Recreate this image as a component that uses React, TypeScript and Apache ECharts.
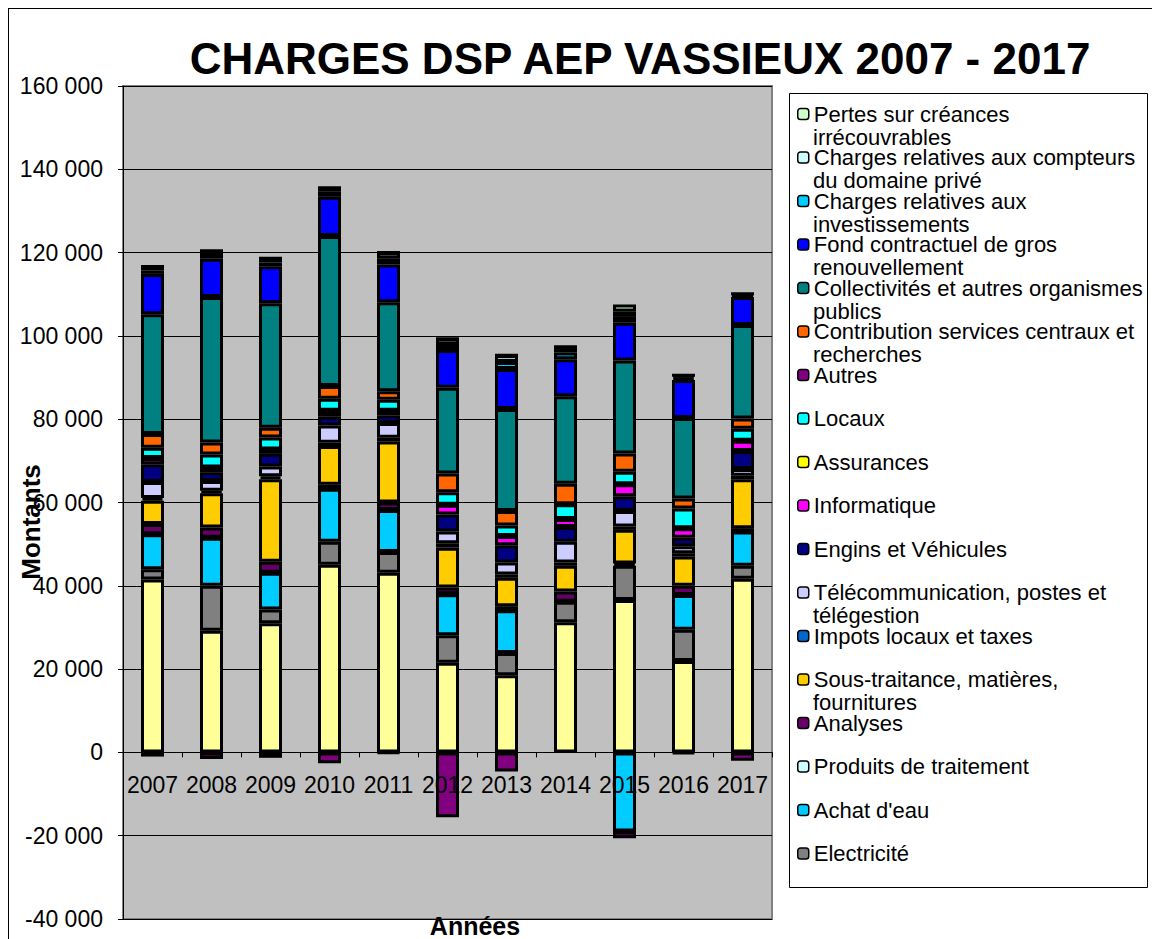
import React, { useEffect, useRef } from "react";
import * as echarts from "echarts";

const CATEGORIES = ["2007", "2008", "2009", "2010", "2011", "2012", "2013", "2014", "2015", "2016", "2017"];

const Y_MIN = -40000;
const Y_MAX = 160000;
const Y_INTERVAL = 20000;

// Series values, stacked bottom -> top
const personnel = [41500, 29180, 30990, 45050, 43150, 21540, 18500, 31240, 36580, 21950, 41680];
const electricite = [2470, 10850, 3290, 5500, 4940, 6570, 5340, 4930, 8220, 7480, 3120];
const achatEau = [8380, 11510, 8880, 12740, 10110, 9870, 10270, 0, -19000, 8380, 8220];
const produitsTraitement = [0, 0, 0, 0, 0, 0, 0, 0, 0, 0, 0];
const analyses = [2470, 2470, 2630, 990, 1800, 1640, 990, 2460, 570, 2220, 820];
const sousTraitance = [5590, 8220, 19810, 9290, 14640, 9540, 6820, 6170, 8060, 6990, 11760];
const impots = [700, 600, 700, 750, 900, 1050, 800, 800, 800, 800, 800];
const telecom = [3800, 2350, 2340, 4180, 3540, 2810, 2900, 4950, 3720, 1660, 1660];
const engins = [4270, 2060, 3040, 2060, 1890, 4110, 4110, 3540, 3540, 2060, 4280];
const informatique = [1480, 1150, 1070, 1480, 1070, 2300, 2220, 1970, 2870, 2300, 2460];
const assurances = [0, 0, 0, 0, 0, 0, 0, 0, 0, 0, 0];
const locaux = [2470, 3120, 2870, 2870, 2630, 3040, 2550, 3540, 3040, 4690, 2880];
const autres = [-1000, -1600, -1300, -2600, -200, -15600, -4600, 0, -1600, -300, -2000];
const contribution = [3290, 2880, 2310, 3040, 2050, 4520, 3450, 4930, 4360, 2460, 2470];
const collectivites = [28770, 34940, 29920, 36050, 21370, 20550, 24500, 20960, 22360, 19320, 22440];
const fondRenouvellement = [9700, 9200, 8870, 9400, 9050, 9050, 9610, 8880, 9040, 9120, 6740];
const chargesInvest = [800, 900, 900, 1200, 1390, 1230, 1650, 1640, 1400, 600, 400];
const chargesCompteurs = [1000, 1000, 1000, 1000, 1480, 1480, 1640, 1400, 1310, 550, 420];
const pertesCreances = [0, 0, 0, 0, 0, 0, 0, 0, 1650, 0, 0];

const SERIES_NAMES = [
  "Personnel",
  "Electricité",
  "Achat d'eau",
  "Produits de traitement",
  "Analyses",
  "Sous-traitance, matières, fournitures",
  "Impots locaux et taxes",
  "Télécommunication, postes et télégestion",
  "Engins et Véhicules",
  "Informatique",
  "Assurances",
  "Locaux",
  "Autres",
  "Contribution services centraux et recherches",
  "Collectivités et autres organismes publics",
  "Fond contractuel de gros renouvellement",
  "Charges relatives aux investissements",
  "Charges relatives aux compteurs du domaine privé",
  "Pertes sur créances irrécouvrables",
];

const SERIES_VALUES = [
  personnel, electricite, achatEau, produitsTraitement, analyses, sousTraitance, impots, telecom,
  engins, informatique, assurances, locaux, autres, contribution, collectivites, fondRenouvellement,
  chargesInvest, chargesCompteurs, pertesCreances,
];

const SERIES_COLORS = [
  "#FFFF99", "#808080", "#00CCFF", "#CCFFFF", "#660066", "#FFCC00", "#0066CC", "#CCCCFF",
  "#000080", "#FF00FF", "#FFFF00", "#00FFFF", "#800080", "#FF6600", "#008080", "#0000FF",
  "#00CCFF", "#CCFFFF", "#CCFFCC",
];

// Legend wrapping as in the reference (first line / second line)
const LEGEND_FIRST: Record<string, string> = {
  "Pertes sur créances irrécouvrables": "Pertes sur créances",
  "Charges relatives aux compteurs du domaine privé": "Charges relatives aux compteurs",
  "Charges relatives aux investissements": "Charges relatives aux",
  "Fond contractuel de gros renouvellement": "Fond contractuel de gros",
  "Collectivités et autres organismes publics": "Collectivités et autres organismes",
  "Contribution services centraux et recherches": "Contribution services centraux et",
  "Télécommunication, postes et télégestion": "Télécommunication, postes et",
  "Sous-traitance, matières, fournitures": "Sous-traitance, matières,",
};
const LEGEND_SECOND: Record<string, string> = {
  "Pertes sur créances irrécouvrables": "irrécouvrables",
  "Charges relatives aux compteurs du domaine privé": "du domaine privé",
  "Charges relatives aux investissements": "investissements",
  "Fond contractuel de gros renouvellement": "renouvellement",
  "Collectivités et autres organismes publics": "publics",
  "Contribution services centraux et recherches": "recherches",
  "Télécommunication, postes et télégestion": "télégestion",
  "Sous-traitance, matières, fournitures": "fournitures",
};

const TITLE = "CHARGES DSP AEP VASSIEUX 2007 - 2017";
const X_NAME = "Années";
const Y_NAME = "Montants";

const FONT = "'Liberation Sans', Arial, sans-serif";

const GRID_HEIGHT = 833;

function fmt(v: number): string {
  const s = Math.abs(v).toString().replace(/\B(?=(\d{3})+(?!\d))/g, " ");
  return (v < 0 ? "-" : "") + s;
}

export default function App() {
  const ref = useRef<HTMLDivElement>(null);

  useEffect(() => {
    document.body.style.overflow = "hidden";
    if (!ref.current) return;
    const chart = echarts.init(ref.current, undefined, { renderer: "svg" });

    const legendNames = SERIES_NAMES.slice(1).reverse();
    const legendCommon = {
      orient: "vertical",
      left: 780,
      data: legendNames,
      itemWidth: 11,
      itemHeight: 11,
      itemGap: 21.5,
      padding: [9, 4, 22, 8],
      selectedMode: false,
      backgroundColor: "transparent",
      borderWidth: 0,
      textStyle: { fontFamily: FONT, fontSize: 22, color: "#000" },
    };

    // distance of the value 0 above the bottom of the plot
    const zeroOffset = (GRID_HEIGHT * (0 - Y_MIN)) / (Y_MAX - Y_MIN);

    const option: any = {
      animation: false,
      backgroundColor: "#ffffff",
      textStyle: { fontFamily: FONT },
      grid: {
        left: 114,
        top: 77,
        width: 649,
        height: GRID_HEIGHT,
        show: true,
        backgroundColor: "#C0C0C0",
        borderColor: "#808080",
        borderWidth: 2,
      },
      legend: [
        {
          ...legendCommon,
          top: 85,
          z: 5,
          itemStyle: { borderColor: "#000", borderWidth: 1.5 },
          formatter: (name: string) => LEGEND_FIRST[name] || name,
        },
        {
          ...legendCommon,
          top: 108,
          z: 6,
          itemStyle: { color: "rgba(0,0,0,0)", borderWidth: 0, opacity: 0 },
          formatter: (name: string) => LEGEND_SECOND[name] || " ",
        },
      ],
      xAxis: {
        type: "category",
        data: CATEGORIES,
        position: "bottom",
        offset: -zeroOffset,
        z: 5,
        axisLine: { onZero: false, lineStyle: { color: "#000", width: 1 } },
        axisTick: { show: true, length: 5, lineStyle: { color: "#000" } },
        axisLabel: { fontFamily: FONT, fontSize: 23, color: "#000", margin: 21, interval: 0 },
        splitLine: { show: false },
      },
      yAxis: {
        type: "value",
        min: Y_MIN,
        max: Y_MAX,
        interval: Y_INTERVAL,
        axisLine: { show: true, lineStyle: { color: "#000", width: 1 } },
        axisTick: { show: true, length: 5, lineStyle: { color: "#000" } },
        axisLabel: { fontFamily: FONT, fontSize: 23, color: "#000", margin: 20, formatter: fmt },
        splitLine: { show: true, lineStyle: { color: "#000", width: 1 } },
      },
      series: SERIES_NAMES.map((name, i) => ({
        name,
        type: "bar",
        stack: "total",
        barWidth: 23,
        data: SERIES_VALUES[i],
        itemStyle: { color: SERIES_COLORS[i], borderColor: "#000", borderWidth: 3 },
        emphasis: { disabled: true },
      })),
      graphic: [
        {
          type: "rect",
          z: 1,
          shape: { x: 780.5, y: 84.5, width: 358, height: 794 },
          style: { fill: "#ffffff", stroke: "#000", lineWidth: 1 },
        },
        {
          type: "text",
          x: 631,
          y: 49,
          style: {
            text: TITLE,
            fontFamily: FONT,
            fontSize: 44,
            fontWeight: "bold",
            fill: "#000",
            textAlign: "center",
            textVerticalAlign: "middle",
          },
        },
        {
          type: "text",
          x: 466,
          y: 917,
          style: {
            text: X_NAME,
            fontFamily: FONT,
            fontSize: 25,
            fontWeight: "bold",
            fill: "#000",
            textAlign: "center",
            textVerticalAlign: "middle",
          },
        },
        {
          type: "text",
          x: 22,
          y: 513,
          rotation: Math.PI / 2,
          style: {
            text: Y_NAME,
            fontFamily: FONT,
            fontSize: 26,
            fontWeight: "bold",
            fill: "#000",
            textAlign: "center",
            textVerticalAlign: "middle",
          },
        },
      ],
    };

    chart.setOption(option);
    return () => chart.dispose();
  }, []);

  return (
    <div
      style={{
        position: "fixed",
        left: 8,
        top: 8,
        borderTop: "1px solid #000",
        borderLeft: "1px solid #000",
        width: 1144,
        height: 931,
        boxSizing: "border-box",
        background: "#fff",
      }}
    >
      <div ref={ref} style={{ width: 1143, height: 930 }} />
    </div>
  );
}
